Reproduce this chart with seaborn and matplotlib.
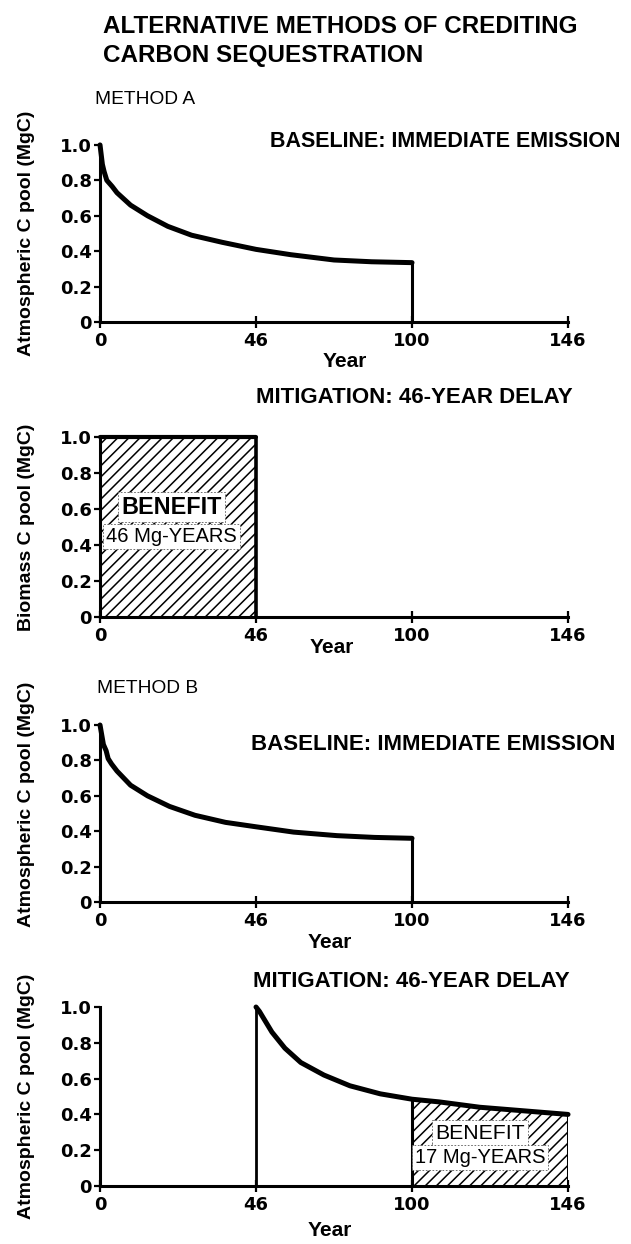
import numpy as np
import pandas as pd
import seaborn as sns
import matplotlib.pyplot as plt

sns.set_theme(style="ticks")
plt.rcParams["font.family"] = ["Liberation Sans", "DejaVu Sans"]
plt.rcParams["text.color"] = "black"
plt.rcParams["axes.labelcolor"] = "black"
plt.rcParams["hatch.linewidth"] = 1.1

# the original draws 0, 46, 100 and 146 evenly spaced along the year axis
year_ticks = [0, 46, 100, 146]
pool_ticks = [0, 0.2, 0.4, 0.6, 0.8, 1.0]
pool_ticklabels = ["0", "0.2", "0.4", "0.6", "0.8", "1.0"]

# method A, baseline: immediate emission (atmospheric pool)
base_a_year = [0, 0.7, 1.2, 2, 3.6, 5, 9, 14, 20, 27, 36, 46, 58, 73, 86, 100]
base_a_pool = [1.0, 0.89, 0.85, 0.80, 0.765, 0.73, 0.66, 0.60, 0.54, 0.49, 0.45,
               0.41, 0.38, 0.35, 0.34, 0.335]

# method A, mitigation: carbon held in biomass for 46 years
mit_a_year = [0, 46]
mit_a_pool = [1.0, 1.0]

# method B, baseline: immediate emission
base_b_year = [0, 1, 1.8, 2.4, 3.4, 5, 9, 14, 20.5, 28, 37, 46, 59, 74, 87, 100]
base_b_pool = [1.0, 0.89, 0.855, 0.81, 0.78, 0.74, 0.66, 0.60, 0.54, 0.49, 0.45,
               0.425, 0.395, 0.375, 0.365, 0.36]

# method B, mitigation: emission delayed by 46 years
mit_b_year = [46, 47.2, 48.5, 51.5, 56, 61.5, 69.5, 78.5, 89, 100, 108, 120, 133, 146]
mit_b_pool = [1.0, 0.975, 0.94, 0.86, 0.77, 0.69, 0.62, 0.56, 0.515, 0.485, 0.47,
              0.44, 0.42, 0.40]
horizon = 100

_xp = [-146, 0, 46, 100, 146, 292]
_fp = [-3, 0, 1, 2, 3, 6]


def fwd(x):
    return np.interp(x, _xp, _fp)


def inv(p):
    return np.interp(p, _fp, _xp)


def style_axes(ax, ylabel, year_x, year_y, ylab_y=0.5):
    ax.set_xscale("function", functions=(fwd, inv))
    ax.set_xlim(0, 146)
    ax.set_ylim(0, 1.0)
    ax.set_xticks(year_ticks)
    ax.set_xticklabels([str(t) for t in year_ticks])
    ax.set_yticks(pool_ticks)
    ax.set_yticklabels(pool_ticklabels)
    ax.minorticks_off()
    sns.despine(ax=ax)
    for side in ("left", "bottom"):
        ax.spines[side].set_linewidth(2.2)
        ax.spines[side].set_color("black")
    ax.tick_params(axis="y", direction="out", length=4, width=1.6, pad=2,
                   labelsize=13, colors="black")
    ax.tick_params(axis="x", direction="inout", length=8, width=1.6, pad=3,
                   labelsize=13, colors="black")
    for lab in ax.get_xticklabels() + ax.get_yticklabels():
        lab.set_fontfamily("DejaVu Sans")
        lab.set_fontweight("bold")
    ax.set_xlabel("Year", fontsize=15, fontweight="bold")
    ax.xaxis.set_label_coords(year_x, year_y)
    ax.xaxis.label.set_va("center")
    ax.set_ylabel(ylabel, fontsize=14, fontweight="bold")
    ax.yaxis.set_label_coords(-0.158, ylab_y)
    ax.yaxis.label.set_va("center")


def curve(ax, years, pools, lw=3.6):
    df = pd.DataFrame({"year": years, "pool": pools})
    sns.lineplot(data=df, x="year", y="pool", ax=ax, color="black", lw=lw,
                 sort=False, estimator=None, clip_on=False,
                 solid_capstyle="round", solid_joinstyle="round")


def benefit_label(ax, x, y1, y2, n, bold_first, size1):
    box = dict(boxstyle="square,pad=0.15", facecolor="white",
               edgecolor="0.35", linewidth=0.6, linestyle=(0, (2, 2)))
    ax.text(x, y1, "BENEFIT", ha="center", va="center", fontsize=size1,
            fontweight="bold" if bold_first else "normal",
            bbox=box, zorder=5)
    ax.text(x, y2, f"{n} Mg-YEARS", ha="center", va="center", fontsize=14.5,
            bbox=box, zorder=5)


fig = plt.figure(figsize=(6.31, 12.44), dpi=100)
left, width = 0.1585, 0.7417
ax1 = fig.add_axes([left, 0.7412, width, 0.1423])
ax2 = fig.add_axes([left, 0.5040, width, 0.1447])
ax3 = fig.add_axes([left, 0.2749, width, 0.1423])
ax4 = fig.add_axes([left, 0.0466, width, 0.1439])

# panel 1
curve(ax1, base_a_year, base_a_pool)
ax1.vlines(base_a_year[-1], 0, base_a_pool[-1], color="black", lw=2.2)
style_axes(ax1, "Atmospheric C pool (MgC)", 0.523, -0.226)

# panel 2
ax2.fill_between(mit_a_year, 0, mit_a_pool, facecolor="white",
                 edgecolor="black", hatch="///", linewidth=0)
curve(ax2, mit_a_year, mit_a_pool, lw=3.0)
ax2.vlines(mit_a_year[-1], 0, mit_a_pool[-1], color="black", lw=2.6)
benefit_label(ax2, 21, 0.61, 0.445, 46, True, 16.8)
style_axes(ax2, "Biomass C pool (MgC)", 0.496, -0.172)

# panel 3
curve(ax3, base_b_year, base_b_pool)
ax3.vlines(base_b_year[-1], 0, base_b_pool[-1], color="black", lw=2.2)
style_axes(ax3, "Atmospheric C pool (MgC)", 0.49, -0.226, ylab_y=0.55)

# panel 4
yr = np.array(mit_b_year)
pl = np.array(mit_b_pool)
sel = yr >= horizon
ax4.fill_between(yr[sel], 0, pl[sel], facecolor="white", edgecolor="black",
                 hatch="///", linewidth=0)
ax4.vlines(mit_b_year[0], 0, mit_b_pool[0], color="black", lw=2.0)
ax4.vlines([horizon, mit_b_year[-1]], 0, [pl[sel][0], pl[sel][-1]],
           color="black", lw=2.2)
curve(ax4, mit_b_year, mit_b_pool)
benefit_label(ax4, 120, 0.296, 0.162, 17, False, 15.3)
style_axes(ax4, "Atmospheric C pool (MgC)", 0.49, -0.246)

# headings
fig.text(0.163, 1 - 33 / 1244, "ALTERNATIVE METHODS OF CREDITING",
         fontsize=17.5, fontweight="bold", va="baseline")
fig.text(0.163, 1 - 62 / 1244, "CARBON SEQUESTRATION",
         fontsize=17.5, fontweight="bold", va="baseline")
fig.text(95 / 631, 1 - 104 / 1244, "METHOD A", fontsize=13.8, va="baseline")
fig.text(97 / 631, 1 - 693 / 1244, "METHOD B", fontsize=13.8, va="baseline")
fig.text(270 / 631, 1 - 147 / 1244, "BASELINE: IMMEDIATE EMISSION",
         fontsize=15.5, fontweight="bold", va="baseline")
fig.text(256 / 631, 1 - 403 / 1244, "MITIGATION: 46-YEAR DELAY",
         fontsize=16, fontweight="bold", va="baseline")
fig.text(251 / 631, 1 - 750 / 1244, "BASELINE: IMMEDIATE EMISSION",
         fontsize=16, fontweight="bold", va="baseline")
fig.text(253 / 631, 1 - 987 / 1244, "MITIGATION: 46-YEAR DELAY",
         fontsize=16, fontweight="bold", va="baseline")

fig.savefig("out.png", dpi=100)
plt.close()
